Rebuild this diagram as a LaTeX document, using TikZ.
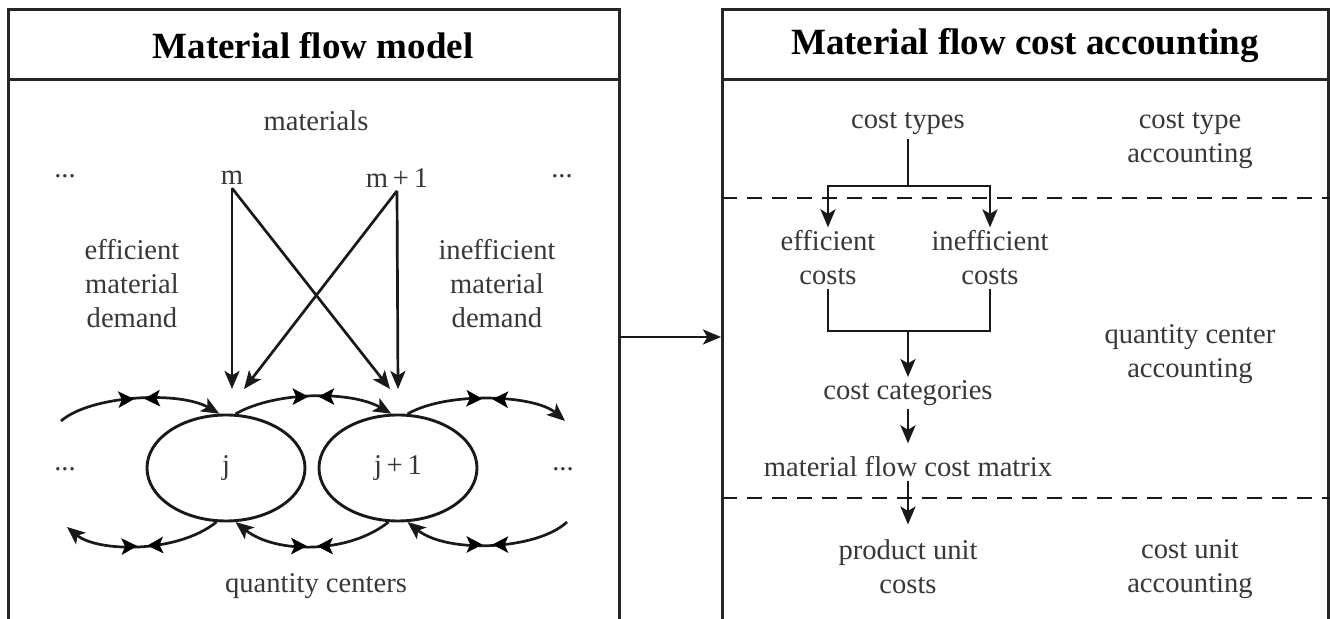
\documentclass[tikz,border=0pt]{standalone}
\usepackage{fontspec}
\setmainfont{Liberation Serif}
\usetikzlibrary{arrows.meta,shapes.geometric,decorations.markings}

\tikzset{
  txt/.style={font=\fontsize{14.3}{17}\selectfont, text=black!78, align=center, inner sep=1.5pt},
  ttl/.style={font=\bfseries\fontsize{18.5}{22}\selectfont, inner sep=0pt},
  frame/.style={line width=1.5pt, draw=black!85},
  ln/.style={line width=1.35pt, draw=black!90},
  arr/.style={ln, -{Stealth[length=9pt,width=7.5pt,inset=2.2pt]}},
  sep/.style={line width=1.3pt, draw=black!90, dash pattern=on 7.5pt off 5pt},
  qcenter/.style={ellipse, draw=black!90, line width=1.45pt, minimum width=79pt, minimum height=53pt, inner sep=0pt, txt},
  bow/.style={postaction=decorate, decoration={markings, mark=at position 0.5 with {
      \fill[black] (-2.5pt,0) -- (-10.5pt,4.2pt) -- (-8.6pt,0) -- (-10.5pt,-4.2pt) -- cycle;
      \fill[black] (2.5pt,0) -- (10.5pt,4.2pt) -- (8.6pt,0) -- (10.5pt,-4.2pt) -- cycle;}}},
}

\begin{document}
\begin{tikzpicture}[x=0.5pt, y=-0.5pt]
  \clip (0,0) rectangle (1330,619);
  \fill[white] (0,0) rectangle (1330,619);

  % ---------- frames ----------
  \draw[frame] (8,650) -- (8,10) -- (619,10) -- (619,650);
  \draw[frame] (8,80) -- (619,80);
  \draw[frame] (722,650) -- (722,10) -- (1328,10) -- (1328,650);
  \draw[frame] (722,80) -- (1328,80);
  \node[ttl] (t1) at (313,46) {Material flow model};
  \node[ttl] (t2) at (1025,46) {Material flow cost accounting};

  % ---------- material flow model ----------
  \node[txt] (mat) at (316,121) {materials};
  \node[txt, anchor=base] (d1) at (65,178) {...};
  \node[txt, anchor=base] (d2) at (562,178) {...};
  \node[txt] (m) at (232,178) {m};
  \node[txt] (m1) at (397,178) {m\,+\,1};
  \node[txt] (eff) at (132,284) {efficient\\material\\demand};
  \node[txt] (ineff) at (497,284) {inefficient\\material\\demand};

  \node[qcenter] (j) at (226,468) {j};
  \node[qcenter] (jj) at (398,468) {j\,+\,1};
  \node[txt, anchor=base] (d3) at (65,471) {...};
  \node[txt, anchor=base] (d4) at (563,471) {...};
  \node[txt] (qc) at (316,586) {quantity centers};

  \coordinate (mj) at (232,389);
  \coordinate (mjj) at (390,389);
  \coordinate (m1j) at (244,389);
  \coordinate (m1jj) at (398,389);
  \draw[arr] (m.south) -- (mj);
  \draw[arr] (m.south) -- (mjj);
  \draw[arr] (m1.south) -- (m1jj);
  \draw[arr] (m1.south) -- (m1j);

  % flows between neighbouring quantity centers
  \coordinate (ul) at (61,421);
  \coordinate (ur) at (565,421);
  \coordinate (ll) at (67,527);
  \coordinate (lr) at (567,522);
  \draw[arr, bow] (ul) .. controls +(30,-26) and +(-40,-23) .. (j.97);
  \draw[arr, bow] (j.80) .. controls +(40,-23) and +(-40,-23) .. (jj.97);
  \draw[arr, bow] (jj.80) .. controls +(40,-23) and +(-30,-26) .. (ur);
  \draw[arr, bow] (j.-100) .. controls +(-40,32) and +(30,25) .. (ll);
  \draw[arr, bow] (jj.-100) .. controls +(-40,32) and +(40,32) .. (j.-80);
  \draw[arr, bow] (lr) .. controls +(-30,28) and +(40,32) .. (jj.-80);

  % ---------- link between the two panels ----------
  \coordinate (lout) at (619,337);
  \coordinate (rin) at (721,337);
  \draw[arr] (lout) -- (rin);

  % ---------- material flow cost accounting ----------
  \draw[sep] (722,198) -- (1330,198);
  \draw[sep] (722,498) -- (1330,498);

  \node[txt] (ct) at (908,124) {cost types};
  \node[txt] (cta) at (1190,141) {cost type\\accounting};
  \node[txt] (ec) at (828,258) {efficient\\costs};
  \node[txt] (ic) at (990,258) {inefficient\\costs};
  \node[txt] (qca) at (1190,354) {quantity center\\accounting};
  \node[txt] (cc) at (908,393) {cost categories};
  \node[txt] (mm) at (908,467) {material flow cost matrix};
  \node[txt] (pu) at (908,567) {product unit\\costs};
  \node[txt] (cua) at (1190,569) {cost unit\\accounting};

  \coordinate (split) at (908,186);
  \coordinate (merge) at (908,331);
  \draw[ln] (ct) -- (split);
  \draw[arr] (split) -| (ec);
  \draw[arr] (split) -| (ic);
  \draw[ln] (ec) |- (merge) -| (ic);
  \draw[arr] (merge) -- (cc);
  \draw[arr, shorten >=5pt] (cc) -- (mm);
  \draw[arr, shorten >=6pt] (mm) -- (pu);
\end{tikzpicture}
\end{document}
